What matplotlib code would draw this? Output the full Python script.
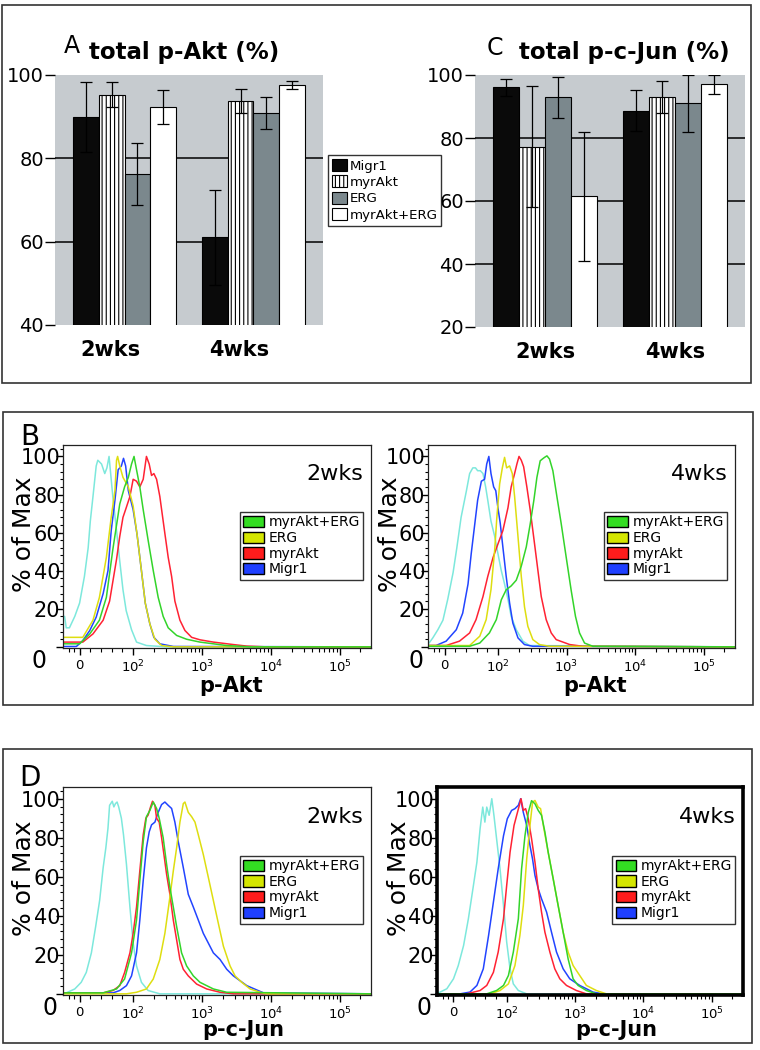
import matplotlib
matplotlib.use("Agg")
import matplotlib.pyplot as plt
from matplotlib.patches import Patch, Rectangle
from matplotlib.transforms import ScaledTranslation
import numpy as np

plt.rcParams['font.family'] = 'DejaVu Sans'
plt.rcParams['hatch.linewidth'] = 0.8

# ---- bar charts (A: total p-Akt, C: total p-c-Jun) ----
groups = ['2wks', '4wks']
constructs = ['Migr1', 'myrAkt', 'ERG', 'myrAkt+ERG']
# one row per construct, one value per group
akt_mean = [[89.9, 61.0], [95.2, 93.8], [76.2, 90.9], [92.3, 97.6]]
akt_err = [[8.4, 11.5], [3.0, 2.9], [7.4, 3.8], [4.0, 1.0]]
jun_mean = [[96.1, 88.7], [77.3, 93.0], [93.0, 91.0], [61.5, 97.0]]
jun_err = [[2.7, 6.5], [19.3, 5.2], [6.5, 9.0], [20.5, 2.9]]

bar_face = ['#0a0a0a', 'white', '#7b888d', 'white']
bar_hatch = [None, '||||', None, None]

# ---- flow histograms: (intensity, % of max) ----
# B, p-Akt 2wks
akt2_ctrl = ([-28, -25, -19, -9, 0, 9, 16, 20, 25, 31, 34, 41, 47, 51, 55, 58, 62, 69, 75, 81, 87, 97, 112, 156, 306],
             [16, 10, 10, 16, 23, 37, 52, 66, 79, 95, 98, 96, 91, 94, 100, 91, 79, 61, 45, 30, 19, 9, 2.5, 0.7, 0])
akt2_migr1 = ([-6, 6, 19, 31, 44, 53, 59, 66, 72, 78, 82, 86, 91, 100, 114, 132, 150, 175, 200, 244, 383],
              [0.2, 3.3, 8.6, 15.6, 28, 40, 61, 77, 93, 95, 99, 95, 82, 72, 59, 40, 23, 12, 5, 1.6, 0.2])
akt2_myrakt = ([6, 25, 44, 56, 69, 75, 81, 87, 94, 100, 112, 125, 140, 156, 171, 185, 200, 219, 244, 289, 323, 362,
                404, 478, 565, 707, 935, 1462, 2858, 4470, 8750],
               [2.5, 6.8, 14, 24, 46, 58, 68, 73, 79, 88, 87, 84, 88, 100, 96, 90, 91, 88, 79, 59.5, 47, 37,
                24, 14, 8.6, 5, 3.7, 2.5, 1.2, 0.4, 0])
akt2_erg = ([6, 25, 37, 50, 59, 66, 69, 71, 75, 81, 91, 100, 114, 132, 150, 175, 207, 259, 383],
            [5, 14, 26, 47, 68, 82, 98, 100, 95, 89, 84, 74, 59, 40, 23, 12, 4, 0.7, 0])
akt2_combo = ([0, 19, 37, 50, 62, 75, 84, 91, 97, 103, 112, 125, 140, 165, 196, 231, 273, 323, 428, 598, 935, 2286, 5000],
              [1.6, 6.8, 14, 26, 51, 75, 84, 89, 96, 100, 93, 84, 72, 56, 40, 26, 16, 10, 6, 4, 2.5, 0.7, 0])

# B, p-Akt 4wks
akt4_ctrl = ([-29, -22, -12.5, -3, 6, 16, 23, 31, 41, 47, 53, 58, 62, 67, 72, 77, 81, 87, 94, 100, 112, 125, 140,
              156, 185, 231, 289],
             [2, 4.7, 9, 14, 25, 39, 52, 68, 82, 91, 94, 94, 92.5, 92.5, 91, 84, 77, 66, 58, 49, 40, 33, 25,
              16, 9, 3, 0.7])
akt4_migr1 = ([-16, 3, 22, 34, 44, 50, 56, 62, 69, 75, 79, 83, 87, 92, 96, 100, 108, 118, 132, 148, 165, 196, 244, 323],
              [0.7, 3, 9, 17.7, 33, 49, 63, 77, 87, 88, 96, 100, 91, 84, 82, 73, 65, 52.5, 37, 23, 12.5, 4.7, 1.2, 0.3])
akt4_myrakt = ([3, 28, 47, 59, 72, 81, 91, 100, 118, 140, 156, 175, 189, 203, 219, 237, 264, 296, 342, 383, 428,
                505, 598, 707, 1115, 1730],
               [0.7, 3, 7.3, 14.3, 26.4, 37, 47, 54, 61, 73, 84, 91, 96, 100, 98, 94.6, 84, 71.7, 54, 40, 26.4,
                14.3, 7.3, 3.8, 1.2, 0.3])
akt4_erg = ([47, 66, 78, 87, 94, 98, 106, 116, 125, 134, 148, 162, 175, 196, 219, 244, 273, 323, 404, 565],
            [0.7, 5.6, 14.3, 30, 51, 68, 85.6, 94, 99.5, 94, 95, 91, 79, 58, 37, 21, 10.8, 3.8, 1.2, 0.3])
akt4_combo = ([47, 66, 84, 97, 112, 132, 156, 185, 219, 259, 296, 334, 370, 413, 443, 478, 518, 565, 632, 726, 836,
               989, 1169, 1350, 1546, 1829, 2420],
              [0.3, 2, 7.3, 14.3, 24.7, 30, 32, 35, 42.4, 52.5, 64.7, 77, 89, 97.7, 98.6, 99.5, 100.3, 98.6, 92.5,
               78.6, 64.7, 47, 29.6, 16, 7.3, 2, 0.3])

# D, p-c-Jun 2wks
jun2_ctrl = ([-25, -9, 3, 12.5, 22, 30, 37.5, 44, 49, 53, 56, 61, 64, 67, 70, 73, 78, 82, 87.5, 94, 100, 112, 132, 165, 244],
             [0.5, 2.5, 5.9, 11, 21, 34.5, 48, 64.7, 74.8, 84.9, 96.6, 98.7, 95.8, 97.5, 98.3, 95.8, 90, 81.5,
              66.4, 44.5, 26, 14.3, 5.9, 1.7, 0])
jun2_migr1 = ([62.5, 75, 87.5, 97, 112, 125, 140, 156, 171, 185, 207, 231, 259, 289, 323, 362, 404, 452, 535, 632,
               748, 884, 1045, 1236, 1462, 1829, 2286, 2858, 4470, 7820],
              [0.5, 1.7, 4.2, 9.2, 21, 37.8, 58, 74.8, 83, 86.6, 88, 93, 97, 98.3, 96.6, 95, 88, 78, 64.7, 51,
               44.5, 37.8, 31, 26, 21, 17.6, 12.6, 9.2, 4.2, 0.5])
jun2_myrakt = ([44, 62.5, 75, 84, 94, 100, 112, 125, 140, 153, 165, 179, 191, 207, 219, 239, 259, 280, 306, 342,
                383, 428, 478, 535, 632, 836, 1169, 1829, 2858],
               [0.5, 1.7, 4.2, 10.9, 21, 31, 44.5, 63, 81.5, 90, 91.6, 95.8, 98.7, 96.6, 90, 88, 80, 71.4, 61.3,
                51, 37.8, 27.7, 17.6, 12.6, 9.2, 5, 2.5, 0.8, 0])
jun2_erg = ([87.5, 112, 156, 196, 244, 289, 342, 383, 428, 478, 535, 565, 632, 707, 791, 884, 1045, 1236, 1462,
             1730, 2046, 2557, 3022, 3782, 5000, 7000, 8750],
            [0, 0.8, 2.5, 7.6, 17.6, 31, 49.6, 63, 74.8, 88, 97.5, 98.3, 93, 90.8, 88, 81.5, 71.4, 59.7, 47.9,
             36, 24.4, 14.3, 9.2, 5.9, 2.5, 0.8, 0])
jun2_combo = ([44, 69, 84, 97, 112, 125, 140, 156, 175, 196, 219, 239, 273, 306, 342, 383, 428, 505, 598, 748, 935,
               1462, 2286],
              [0.5, 2.5, 7.6, 21, 37.8, 58, 78, 90.8, 94, 98.3, 95, 90, 80, 66.4, 54.6, 44.5, 34.5, 21, 14.3,
               9.2, 5.9, 2.5, 0.8])

# D, p-c-Jun 4wks
jun4_ctrl = ([-28, -12.5, 0, 9, 19, 28, 37.5, 44, 50, 55, 59, 62.5, 67, 72, 76, 81, 87.5, 94, 100, 112, 125, 148, 196],
             [0.5, 2.6, 7.7, 14.5, 24.8, 38.5, 55.6, 67.5, 84.6, 95.7, 88, 95.7, 91.5, 100, 91.5, 79.5, 64,
              45.3, 26.5, 12.8, 5.1, 1.7, 0])
jun4_migr1 = ([12.5, 31, 44, 56, 66, 75, 84, 94, 102, 118, 132, 148, 160, 175, 196, 219, 239, 259, 289, 323, 383,
               452, 535, 669, 836, 1169, 1829, 2557],
              [0, 0.9, 4.3, 12.8, 30, 47, 64, 81, 89.7, 94, 94.9, 96.6, 100, 93, 86.3, 76, 69, 60.7, 53.8, 48.7,
               41.9, 31.6, 21.4, 12.8, 7.7, 4.3, 0.9, 0])
jun4_myrakt = ([25, 50, 62.5, 75, 84, 94, 100, 112, 128, 140, 153, 162, 175, 189, 207, 231, 259, 289, 323, 362, 428,
                505, 598, 748, 1045, 1462],
               [0, 1.7, 4.3, 11, 21.4, 38.5, 55.6, 72.6, 86.3, 91.5, 96.6, 100, 94, 94.9, 89.7, 79.5, 67.5, 53.8,
                41.9, 31.6, 21.4, 12.8, 7.7, 4.3, 1.7, 0])
jun4_erg = ([69, 87.5, 106, 132, 156, 175, 196, 219, 239, 259, 289, 313, 350, 404, 478, 565, 669, 791, 935, 1169,
             1462, 2046, 2858],
            [0, 1.7, 5.1, 14.5, 29.9, 45.3, 69, 86.3, 98.3, 99.1, 95.7, 94.9, 84.6, 72.6, 59, 45.3, 31.6, 21.4,
             14.5, 9.4, 4.3, 1.7, 0])
jun4_combo = ([62.5, 81, 94, 106, 125, 148, 165, 185, 207, 231, 259, 289, 323, 362, 404, 478, 565, 669, 791, 935,
               1105, 1462, 2046],
              [0, 1.7, 4.3, 9.4, 21.4, 38.5, 64, 81, 93, 99, 97.4, 94, 91.5, 82.9, 72.6, 59, 45.3, 31.6, 17.9,
               7.7, 4.3, 1.7, 0])

flow_names = ['myrAkt+ERG', 'ERG', 'myrAkt', 'Migr1']
flow_colors = {'ctrl': '#7de8dc', 'Migr1': '#2244ff', 'myrAkt': '#ff2233',
               'ERG': '#dede10', 'myrAkt+ERG': '#33d42a'}
legend_colors = {'myrAkt+ERG': '#33dd22', 'ERG': '#d4e600', 'myrAkt': '#ff1c1c', 'Migr1': '#1f3fff'}

XMIN, XMAX = -31, 2.85e5


def bar_panel(ax, means, errs, ylim, yticks, label_shift=0):
    ax.set_facecolor('#c6cbcf')
    x = np.arange(len(groups))
    w = 0.2
    for i, name in enumerate(constructs):
        pos = x + (i - 1.5) * w
        ax.bar(pos, means[i], w, color=bar_face[i], hatch=bar_hatch[i],
               edgecolor='black', linewidth=0.8, label=name, zorder=2)
        ax.errorbar(pos, means[i], yerr=errs[i], fmt='none', ecolor='black',
                    elinewidth=0.9, capsize=4, capthick=0.9, zorder=3)
    for v in yticks[1:-1]:
        ax.axhline(v, color='black', lw=1.1, zorder=1)
    ax.set_xlim(-0.54, 1.54)
    ax.set_ylim(*ylim)
    ax.set_yticks(yticks)
    ax.set_xticks(x)
    ax.set_xticklabels(groups, fontweight='bold')
    for s in ax.spines.values():
        s.set_visible(False)
    ax.tick_params(axis='y', length=7, width=1, labelsize=14, pad=1)
    ax.tick_params(axis='x', length=0, labelsize=15, pad=11)
    if label_shift:
        off = ScaledTranslation(label_shift / 100, 0, ax.figure.dpi_scale_trans)
        for lab in ax.get_xticklabels():
            lab.set_transform(lab.get_transform() + off)


def flow_panel(ax, curves, xlabel, xlab_pos, tag, zero_off, thick=False):
    ax.set_xscale('symlog', linthresh=100, linscale=0.7)
    for key, (xs, ys) in curves:
        ax.plot([XMIN] + xs + [XMAX], [ys[0]] + ys + [0], color=flow_colors[key], lw=1.1)
    ax.set_xlim(XMIN, XMAX)
    ax.set_ylim(-0.6, 106)
    ax.set_xticks([0, 1e2, 1e3, 1e4, 1e5])
    ax.set_xticklabels(['0', '10$^2$', '10$^3$', '10$^4$', '10$^5$'])
    minors = [-20, -10, 20, 40, 60, 80] + [m * 10 ** k for k in (2, 3, 4) for m in range(2, 10)] + [2e5]
    ax.set_xticks(minors, minor=True)
    ax.set_yticks([0, 20, 40, 60, 80, 100])
    ax.set_yticklabels(['', '20', '40', '60', '80', '100'])
    ax.set_yticks(np.arange(0, 105, 4), minor=True)
    ax.tick_params(axis='y', which='major', length=5, width=1, labelsize=15, pad=-3)
    ax.tick_params(axis='y', which='minor', length=2.5, width=0.8)
    ax.tick_params(axis='x', which='major', length=5, width=1, labelsize=9.5, pad=3)
    ax.tick_params(axis='x', which='minor', length=3, width=0.8)
    lw = 2.6 if thick else 0.9
    for s in ax.spines.values():
        s.set_linewidth(lw)
        s.set_color('black' if thick else '#222222')
    ax.annotate('0', xy=(0, 0), xycoords=('axes fraction', 'data'), xytext=(zero_off, -2),
                textcoords='offset pixels', ha='right', va='top', fontsize=17)
    ax.text(-0.125, 0.56, '% of Max', rotation=90, ha='center', va='center',
            fontsize=18, transform=ax.transAxes)
    ax.annotate(xlabel, xy=(xlab_pos[0], 0), xycoords='axes fraction', xytext=(0, xlab_pos[1]),
                textcoords='offset pixels', ha='center', va='center', fontsize=15, fontweight='bold')
    ax.text(0.975, 0.855, tag, ha='right', va='center', fontsize=16, transform=ax.transAxes)
    handles = [Patch(facecolor=legend_colors[n], edgecolor='black', linewidth=1) for n in flow_names]
    leg = ax.legend(handles, flow_names, loc='upper right', bbox_to_anchor=(0.975, 0.67),
                    borderaxespad=0, fontsize=10, handlelength=1.5, handleheight=0.85,
                    handletextpad=0.3, labelspacing=0.12, borderpad=0.25, fancybox=False)
    leg.get_frame().set_edgecolor('black')
    leg.get_frame().set_linewidth(1)


fig = plt.figure(figsize=(7.6, 10.5), dpi=100)

# panel frames
for x0, y0, w, h in [(2, 5, 749, 378), (3, 412, 750, 293), (3, 749, 749, 294)]:
    fig.add_artist(Rectangle((x0 / 760, 1 - (y0 + h) / 1050), w / 760, h / 1050,
                             transform=fig.transFigure, fill=False, lw=1.2, ec='#333333'))

axA = fig.add_axes([55 / 760, 1 - 325 / 1050, 268 / 760, 250 / 1050])
bar_panel(axA, akt_mean, akt_err, (40, 100), [40, 60, 80, 100], label_shift=-14)
axC = fig.add_axes([475 / 760, 1 - 327 / 1050, 270 / 760, 252 / 1050])
bar_panel(axC, jun_mean, jun_err, (20, 100), [20, 40, 60, 80, 100])

fig.text(72 / 760, 1 - 46 / 1050, 'A', fontsize=17, ha='center', va='center')
fig.text(184 / 760, 1 - 53 / 1050, 'total p-Akt (%)', fontsize=16.5, fontweight='bold', ha='center', va='center')
fig.text(495 / 760, 1 - 48 / 1050, 'C', fontsize=17, ha='center', va='center')
fig.text(624 / 760, 1 - 53 / 1050, 'total p-c-Jun (%)', fontsize=16.5, fontweight='bold', ha='center', va='center')

handles, labels = axA.get_legend_handles_labels()
bar_leg = fig.legend(handles, labels, loc='upper left', bbox_to_anchor=(328 / 760, 1 - 155 / 1050),
                     fontsize=9.6, handlelength=1.1, handleheight=1.0, handletextpad=0.2,
                     labelspacing=0.22, borderpad=0.3, borderaxespad=0, fancybox=False)
bar_leg.get_frame().set_edgecolor('black')
bar_leg.get_frame().set_linewidth(1)

axB1 = fig.add_axes([63 / 760, 1 - 648 / 1050, 308 / 760, 203 / 1050])
flow_panel(axB1, [('ctrl', akt2_ctrl), ('Migr1', akt2_migr1), ('myrAkt', akt2_myrakt),
                  ('ERG', akt2_erg), ('myrAkt+ERG', akt2_combo)], 'p-Akt', (0.545, -38), '2wks', -16)
axB2 = fig.add_axes([428 / 760, 1 - 648 / 1050, 307 / 760, 203 / 1050])
flow_panel(axB2, [('ctrl', akt4_ctrl), ('Migr1', akt4_migr1), ('myrAkt', akt4_myrakt),
                  ('ERG', akt4_erg), ('myrAkt+ERG', akt4_combo)], 'p-Akt', (0.545, -38), '4wks', -5)
axD1 = fig.add_axes([63 / 760, 1 - 995 / 1050, 308 / 760, 208 / 1050])
flow_panel(axD1, [('ctrl', jun2_ctrl), ('Migr1', jun2_migr1), ('myrAkt', jun2_myrakt),
                  ('ERG', jun2_erg), ('myrAkt+ERG', jun2_combo)], 'p-c-Jun', (0.585, -35), '2wks', -5)
axD2 = fig.add_axes([437 / 760, 1 - 995 / 1050, 306 / 760, 208 / 1050])
flow_panel(axD2, [('ctrl', jun4_ctrl), ('Migr1', jun4_migr1), ('myrAkt', jun4_myrakt),
                  ('ERG', jun4_erg), ('myrAkt+ERG', jun4_combo)], 'p-c-Jun', (0.585, -35), '4wks', -5,
           thick=True)

fig.text(30 / 760, 1 - 437 / 1050, 'B', fontsize=20, ha='center', va='center')
fig.text(30 / 760, 1 - 778 / 1050, 'D', fontsize=20, ha='center', va='center')

fig.savefig('out.png', dpi=100)
